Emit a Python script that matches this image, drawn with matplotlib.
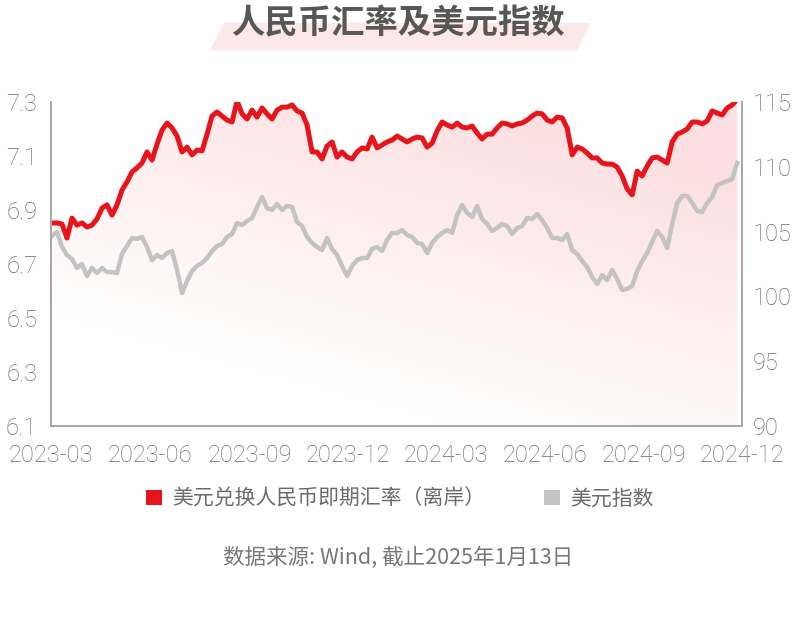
import matplotlib
matplotlib.use("Agg")
import matplotlib.pyplot as plt
import matplotlib.dates as mdates
from matplotlib.patches import Polygon, Patch
import numpy as np
import pandas as pd

plt.rcParams['font.family'] = ['Roboto', 'Noto Sans CJK SC', 'DejaVu Sans']
CJK = ['Noto Sans CJK SC', 'DejaVu Sans']

# ---- data ----
title = "人民币汇率及美元指数"
cnh_label = "美元兑换人民币即期汇率（离岸）"
dxy_label = "美元指数"
source = "数据来源: Wind, 截止2025年1月13日"

tick_labels = ["2023-03", "2023-06", "2023-09", "2023-12",
               "2024-03", "2024-06", "2024-09", "2024-12"]
left_ticks = [6.1, 6.3, 6.5, 6.7, 6.9, 7.1, 7.3]
right_ticks = [90, 95, 100, 105, 110, 115]

cnh = [6.852, 6.852, 6.848, 6.796, 6.870, 6.844, 6.852, 6.837, 6.844, 6.867,
       6.907, 6.919, 6.881, 6.919, 6.974, 7.004, 7.041, 7.056, 7.074, 7.115,
       7.085, 7.144, 7.196, 7.222, 7.204, 7.174, 7.115, 7.133, 7.104, 7.122,
       7.119, 7.181, 7.248, 7.263, 7.248, 7.233, 7.226, 7.304, 7.256, 7.237,
       7.270, 7.244, 7.278, 7.256, 7.237, 7.270, 7.281, 7.281, 7.289, 7.267,
       7.259, 7.215, 7.115, 7.115, 7.089, 7.137, 7.152, 7.096, 7.115, 7.096,
       7.089, 7.115, 7.130, 7.126, 7.170, 7.130, 7.141, 7.152, 7.159, 7.174,
       7.163, 7.152, 7.163, 7.170, 7.167, 7.133, 7.148, 7.193, 7.226, 7.215,
       7.207, 7.222, 7.207, 7.204, 7.211, 7.185, 7.163, 7.181, 7.181, 7.204,
       7.222, 7.219, 7.211, 7.219, 7.222, 7.233, 7.248, 7.259, 7.256, 7.233,
       7.226, 7.244, 7.241, 7.204, 7.104, 7.133, 7.126, 7.111, 7.093, 7.093,
       7.074, 7.070, 7.070, 7.059, 7.026, 6.978, 6.956, 7.044, 7.026, 7.063,
       7.093, 7.096, 7.085, 7.074, 7.152, 7.181, 7.189, 7.200, 7.226, 7.226,
       7.219, 7.230, 7.267, 7.259, 7.252, 7.278, 7.289, 7.310]

dxy = [104.66, 104.97, 103.81, 103.19, 102.89, 102.19, 102.50, 101.57, 102.19, 101.81,
       102.19, 101.88, 101.88, 101.80, 103.27, 103.89, 104.51, 104.44, 104.59, 103.81,
       102.81, 103.19, 102.96, 103.35, 103.50, 102.04, 100.26, 101.19, 101.96, 102.35,
       102.58, 102.96, 103.50, 103.89, 104.04, 104.59, 104.81, 105.66, 105.51, 105.82,
       106.05, 106.90, 107.67, 106.82, 106.67, 107.13, 106.67, 106.98, 106.90, 105.74,
       105.43, 104.59, 104.12, 103.81, 103.58, 104.51, 103.66, 103.19, 102.35, 101.57,
       102.35, 102.81, 102.96, 102.96, 103.66, 103.81, 103.50, 104.35, 104.89, 104.89,
       105.12, 104.74, 104.59, 104.12, 104.04, 103.35, 104.12, 104.59, 104.89, 105.12,
       104.89, 106.28, 107.05, 106.44, 106.13, 106.98, 105.97, 105.59, 105.05, 105.28,
       105.59, 105.43, 104.81, 105.28, 105.43, 106.05, 105.97, 106.36, 105.89, 105.28,
       104.51, 104.51, 104.35, 104.81, 103.58, 103.27, 102.73, 102.27, 101.50, 100.96,
       101.65, 101.27, 102.04, 101.34, 100.49, 100.57, 100.80, 101.96, 102.73, 103.35,
       104.20, 105.05, 104.59, 103.73, 105.59, 107.21, 107.75, 107.75, 107.21, 106.59,
       106.51, 107.21, 107.67, 108.60, 108.75, 108.90, 109.06, 110.30]

RED = "#e8141c"
GRAY = "#c3c3c3"
TXT = "#6b6b6b"
SPINE = "#a8a8a8"

# x axis: quarterly ticks, series spread across the axis
tick_dates = pd.to_datetime([t + "-01" for t in tick_labels])
x0, x1 = mdates.date2num(tick_dates[0]), mdates.date2num(tick_dates[-1])
span = x1 - x0
dates = np.linspace(x0 + span * 1 / 691, x0 + span * 686 / 691, len(cnh))

fig = plt.figure(figsize=(8, 6.3), dpi=100)
ax = fig.add_axes([0.06375, 0.3238, 0.864, 0.5143])
ax2 = ax.twinx()

# gradient fill under the red line (pinker towards the top right)
fill = ax.fill_between(dates, cnh, 6.1, color="none", lw=0)
gx, gy = np.meshgrid(np.linspace(0, 1, 200), np.linspace(1, 0, 200))
alpha = 0.14 * np.clip(0.55 * gx + 0.95 * gy - 0.3, 0, 1)
img = np.zeros((200, 200, 4))
img[..., 0], img[..., 1], img[..., 2] = 0.93, 0.1, 0.12
img[..., 3] = alpha
im = ax.imshow(img, extent=[x0, x1, 6.1, 7.3], aspect="auto", zorder=1,
               interpolation="bilinear")
im.set_clip_path(fill.get_paths()[0], transform=ax.transData)

ax.plot(dates, cnh, color=RED, lw=3.6, zorder=3, solid_joinstyle="round")
ax2.plot(dates, dxy, color=GRAY, lw=3.2, zorder=2, solid_joinstyle="round")

ax.set_xlim(x0, x1)
ax.set_ylim(6.1, 7.3)
ax2.set_ylim(90, 115)
ax.set_xticks(mdates.date2num(tick_dates))
ax.set_xticklabels(tick_labels)
ax.set_yticks(left_ticks)
ax.set_yticklabels([f"{v:.1f}" for v in left_ticks])
ax2.set_yticks(right_ticks)

for a in (ax, ax2):
    a.spines["top"].set_visible(False)
    for s in ("left", "right", "bottom"):
        a.spines[s].set_color(SPINE)
        a.spines[s].set_linewidth(1.3)
    a.tick_params(length=0, labelsize=17, labelcolor=TXT)
    for lab in a.get_xticklabels() + a.get_yticklabels():
        lab.set_fontweight("light")
ax.tick_params(axis="y", pad=10)
ax.tick_params(axis="x", pad=13)
ax2.tick_params(axis="y", pad=8)
ax.patch.set_visible(False)
ax2.patch.set_visible(False)

# title with pink slanted band
W, H = 800, 630
band = [(210, 50), (224, 23), (590, 23), (578, 50)]
fig.patches.append(Polygon([(x / W, 1 - y / H) for x, y in band], closed=True,
                           transform=fig.transFigure, facecolor="#fde8e8",
                           edgecolor="none", zorder=0))
fig.text(0.497, 1 - 24 / H, title, ha="center", va="center", fontsize=24,
         fontweight="bold", color="#575757", family=CJK, zorder=2)

# legend
handles = [Patch(facecolor=RED, edgecolor="none", label=cnh_label),
           Patch(facecolor=GRAY, edgecolor="none", label=dxy_label)]
leg = fig.legend(handles=handles, loc="center", bbox_to_anchor=(0.5, 1 - 499 / H),
                 ncol=2, frameon=False, handlelength=0.75, handleheight=0.75,
                 handletextpad=0.5, columnspacing=2.8,
                 prop={"family": CJK, "size": 15})
for t in leg.get_texts():
    t.set_color(TXT)

fig.text(0.498, 1 - 558 / H, source, ha="center", va="center", fontsize=15.5,
         color="#777777", family=CJK)

fig.savefig("out.png", dpi=100)
